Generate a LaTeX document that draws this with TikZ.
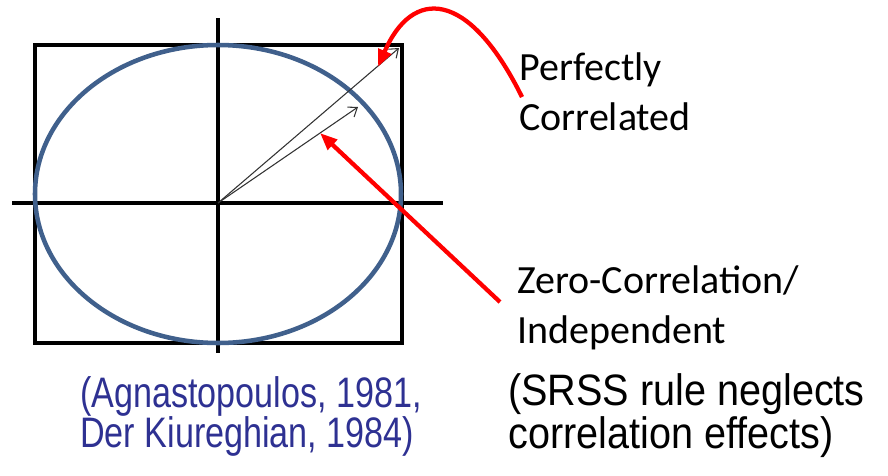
\documentclass[tikz,border=0pt]{standalone}
\usepackage{fontspec}
\usetikzlibrary{arrows.meta}
\newfontfamily\labelfont{Carlito}
\newfontfamily\citefont[FakeStretch=0.8]{Liberation Sans}
\newfontfamily\notefont[FakeStretch=0.9]{Liberation Sans}
\definecolor{ellblue}{RGB}{64,96,140}
\definecolor{citeblue}{RGB}{46,49,146}
\tikzset{
  frame/.style={draw=black, line width=3.4pt},
  axis/.style={draw=black, line width=2.5pt},
  ellline/.style={draw=ellblue, line width=3.4pt},
  vec/.style={-{Straight Barb[length=6pt,width=9pt]}, line width=0.8pt, draw=black!80},
  pointer/.style={-{Triangle[length=13pt,width=10pt]}, line width=3.2pt, draw=red, color=red},
  lbl/.style={anchor=base west, inner sep=0pt, align=left},
}
\begin{document}
\begin{tikzpicture}[x=0.75pt, y=-0.75pt]
\useasboundingbox (0,0) rectangle (888,475);
% --- frame, axes and ellipse ---
\draw[frame] (35,45) rectangle (402,343);
\draw[axis] (12,203) -- (443,203);
\draw[axis] (218,18) -- (218,353);
\draw[ellline] (218,194) ellipse [x radius=183, y radius=149];

% --- vectors from the origin ---
\coordinate (O) at (218,203);
\coordinate (corner) at (399,48);
\coordinate (onell) at (358,107);
\draw[vec] (O) -- (corner);
\draw[vec] (O) -- (onell);

% --- labels (base = last line) ---
\node[lbl, font=\labelfont\fontsize{30}{37.5}\selectfont] (perf) at (519,130)
  {Perfectly\\Correlated};
\node[lbl, font=\labelfont\fontsize{30}{37.5}\selectfont] (zero) at (517,343)
  {Zero-Correlation/\\Independent};
\node[lbl, font=\citefont\fontsize{32}{30}\selectfont, text=citeblue] (cite) at (80,447)
  {(Agnastopoulos, 1981,\\Der Kiureghian, 1984)};
\node[lbl, font=\notefont\fontsize{33}{30.75}\selectfont] (srss) at (508,448)
  {(SRSS rule neglects\\correlation effects)};

% --- red pointers ---
\coordinate (perftail) at (522,97);
\coordinate (perftip) at (378,67);
\coordinate (zerotail) at (500,302);
\coordinate (zerotip) at (320,133);
\draw[pointer] (perftail) .. controls (468,-12) and (412,-12) .. (perftip);
\draw[pointer] (zerotail) -- (zerotip);
\end{tikzpicture}
\end{document}
